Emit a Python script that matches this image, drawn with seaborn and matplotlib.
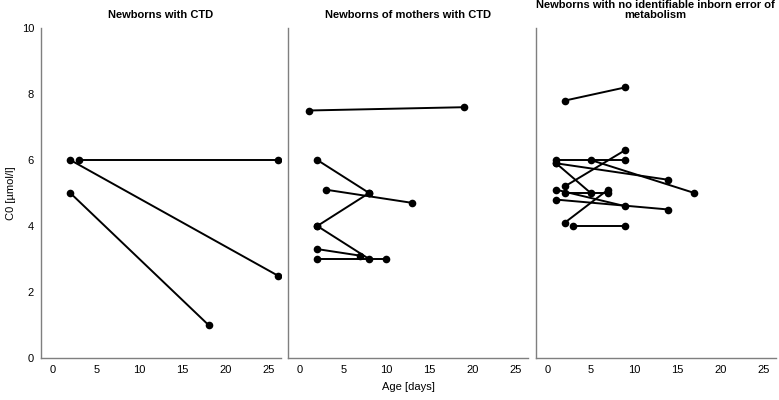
import matplotlib
matplotlib.use("Agg")
import matplotlib.pyplot as plt
import seaborn as sns
import pandas as pd

# ---- data ----
panel_titles = ["Newborns with CTD",
                "Newborns of mothers with CTD",
                "Newborns with no identifiable inborn error of\nmetabolism"]

ctd_subject = [1, 1, 2, 2, 3, 3]
ctd_age = [2, 26, 3, 26, 2, 18]
ctd_c0 = [6.0, 2.5, 6.0, 6.0, 5.0, 1.0]

mothers_subject = [1, 1, 2, 2, 3, 3, 4, 4, 5, 5, 6, 6, 7, 7]
mothers_age = [1, 19, 2, 8, 3, 13, 2, 8, 2, 8, 2, 7, 2, 10]
mothers_c0 = [7.5, 7.6, 6.0, 5.0, 5.1, 4.7, 4.0, 5.0, 4.0, 3.0, 3.3, 3.1, 3.0, 3.0]

none_subject = [1, 1, 2, 2, 3, 3, 4, 4, 5, 5, 6, 6, 7, 7, 8, 8, 9, 9, 10, 10, 11, 11]
none_age = [2, 9, 2, 9, 1, 9, 5, 17, 1, 14, 1, 5, 1, 9, 2, 7, 1, 14, 2, 7, 3, 9]
none_c0 = [7.8, 8.2, 5.2, 6.3, 6.0, 6.0, 6.0, 5.0, 5.9, 5.4, 5.9, 5.0,
           5.1, 4.6, 5.0, 5.0, 4.8, 4.5, 4.1, 5.1, 4.0, 4.0]

x_ticks = [0, 5, 10, 15, 20, 25]
y_ticks = [0, 2, 4, 6, 8, 10]
x_label = "Age [days]"
y_label = "C0 [µmol/l]"

frames = [
    pd.DataFrame({"subject": ctd_subject, "age": ctd_age, "c0": ctd_c0}),
    pd.DataFrame({"subject": mothers_subject, "age": mothers_age, "c0": mothers_c0}),
    pd.DataFrame({"subject": none_subject, "age": none_age, "c0": none_c0}),
]

# ---- style ----
sns.set_style("white")
plt.rcParams["font.family"] = ["Liberation Sans", "DejaVu Sans"]
plt.rcParams["text.color"] = "black"
plt.rcParams["axes.labelcolor"] = "black"
plt.rcParams["xtick.color"] = "black"
plt.rcParams["ytick.color"] = "black"

fig = plt.figure(figsize=(7.79, 4.0), dpi=100)
W, H = 779.0, 400.0
lefts = [41, 288, 535.5]
width = 240
bottom_px, top_px = 358, 28

spine_color = "#7f7f7f"
axes = []
for i, (df, title) in enumerate(zip(frames, panel_titles)):
    ax = fig.add_axes([lefts[i] / W, (H - bottom_px) / H, width / W, (bottom_px - top_px) / H])
    sns.lineplot(data=df, x="age", y="c0", units="subject", estimator=None,
                 color="black", marker="o", markersize=5.5, markeredgewidth=0,
                 linewidth=1.4, ax=ax, legend=False)
    ax.set_xlim(-1.39, 26.39)
    ax.set_ylim(0, 10)
    ax.set_xticks(x_ticks)
    ax.set_xticklabels([str(t) for t in x_ticks])
    ax.set_yticks(y_ticks)
    if i == 0:
        ax.set_yticklabels([str(t) for t in y_ticks])
        ax.set_ylabel(y_label, fontsize=8, labelpad=4)
    else:
        ax.set_yticklabels([])
        ax.set_ylabel("")
    if i == 1:
        ax.set_xlabel(x_label, fontsize=8, labelpad=5)
    else:
        ax.set_xlabel("")
    ax.tick_params(axis="both", length=0, labelsize=8, pad=5, colors="black")
    for side in ["top", "right"]:
        ax.spines[side].set_visible(False)
    for side in ["left", "bottom"]:
        ax.spines[side].set_color(spine_color)
        ax.spines[side].set_linewidth(1.0)
    ax.set_title(title, fontsize=8, fontweight="bold", pad=7, linespacing=1.0, color="black")
    ax.set_facecolor("white")
    axes.append(ax)

fig.savefig("out.png", dpi=100, facecolor="white")
